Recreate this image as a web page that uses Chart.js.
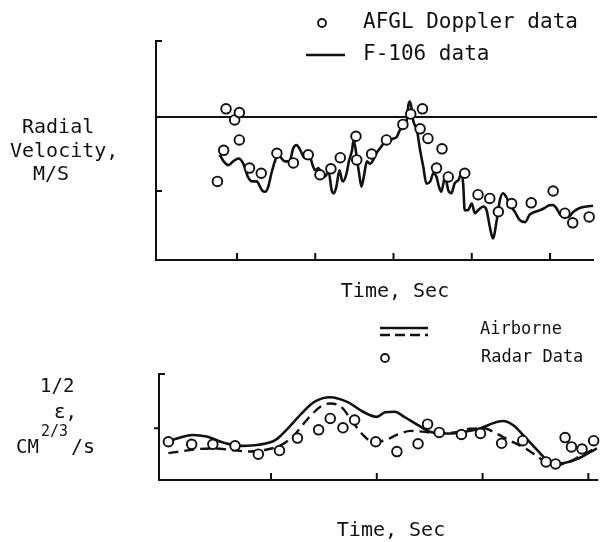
<!DOCTYPE html>
<html>
<head>
<meta charset="utf-8">
<script src="https://cdn.jsdelivr.net/npm/chart.js@4.4.1/dist/chart.umd.min.js"></script>
<style>
  html, body { margin: 0; padding: 0; background: #fff; }
  #wrap { position: relative; width: 605px; height: 542px; overflow: hidden; background: #fff; }
  canvas { position: absolute; left: 0; top: 0; }
</style>
</head>
<body>
<div id="wrap">
  <canvas id="top" width="605" height="542"></canvas>
  <canvas id="bottom" width="605" height="542"></canvas>
</div>
<script>
// ---------- TOP PANEL DATA (x in tick intervals, y in tick units; 0 = reference line) ----------
const topXTicks = [1, 2, 3, 4, 5];
const topYTicks = [-1];
const topRefLine = [[-0.035, 0], [5.6, 0]];

const f106Data = [
  [0.78,-0.51],[0.83,-0.60],[0.89,-0.65],[0.95,-0.60],[1.02,-0.56],[1.08,-0.63],[1.14,-0.81],[1.19,-0.87],
  [1.25,-0.87],[1.32,-0.99],[1.36,-1.01],[1.40,-0.94],[1.44,-0.76],[1.49,-0.58],[1.53,-0.51],[1.57,-0.56],
  [1.61,-0.60],[1.67,-0.60],[1.72,-0.42],[1.76,-0.38],[1.81,-0.45],[1.85,-0.54],[1.89,-0.56],[1.92,-0.49],
  [1.96,-0.63],[2.00,-0.72],[2.04,-0.69],[2.08,-0.76],[2.12,-0.81],[2.17,-0.74],[2.21,-0.99],[2.24,-1.03],
  [2.27,-0.94],[2.31,-0.72],[2.34,-0.85],[2.36,-0.87],[2.40,-0.76],[2.43,-0.60],[2.47,-0.45],[2.49,-0.31],
  [2.53,-0.54],[2.56,-0.76],[2.59,-0.94],[2.62,-0.81],[2.66,-0.60],[2.70,-0.63],[2.73,-0.60],[2.78,-0.49],
  [2.83,-0.42],[2.87,-0.36],[2.91,-0.31],[2.95,-0.31],[3.00,-0.29],[3.04,-0.27],[3.08,-0.18],[3.12,-0.13],
  [3.17,-0.04],[3.19,0.16],[3.21,0.21],[3.23,0.12],[3.25,-0.04],[3.30,-0.18],[3.34,-0.45],[3.38,-0.67],
  [3.42,-0.90],[3.47,-0.87],[3.51,-0.76],[3.55,-0.81],[3.58,-0.94],[3.61,-1.01],[3.66,-0.81],[3.70,-0.99],
  [3.74,-1.03],[3.78,-0.90],[3.83,-0.85],[3.87,-0.76],[3.89,-0.90],[3.91,-1.26],[3.95,-1.26],[4.00,-1.17],
  [4.04,-1.30],[4.08,-1.26],[4.15,-1.21],[4.19,-1.26],[4.23,-1.48],[4.27,-1.64],[4.32,-1.39],[4.36,-1.12],
  [4.40,-1.03],[4.44,-1.08],[4.49,-1.19],[4.55,-1.28],[4.61,-1.39],[4.68,-1.42],[4.74,-1.32],[4.81,-1.28],
  [4.87,-1.26],[4.93,-1.23],[5.00,-1.19],[5.04,-1.19],[5.08,-1.23],[5.13,-1.32],[5.17,-1.35],[5.23,-1.35],
  [5.30,-1.28],[5.38,-1.23],[5.47,-1.21],[5.55,-1.20]
];

const dopplerData = [
  [0.75,-0.87],[0.86,0.11],[0.83,-0.45],[0.97,-0.04],[1.03,0.06],[1.03,-0.31],[1.16,-0.69],[1.31,-0.76],
  [1.51,-0.49],[1.72,-0.62],[1.91,-0.51],[2.06,-0.78],[2.20,-0.70],[2.32,-0.55],[2.52,-0.26],[2.53,-0.58],
  [2.72,-0.50],[2.91,-0.31],[3.12,-0.10],[3.22,0.04],[3.37,0.11],[3.34,-0.16],[3.44,-0.29],[3.62,-0.43],
  [3.55,-0.69],[3.70,-0.81],[3.91,-0.76],[4.08,-1.05],[4.23,-1.10],[4.34,-1.28],[4.51,-1.17],[4.76,-1.16],
  [5.04,-1.00],[5.19,-1.30],[5.29,-1.43],[5.50,-1.35]
];

// ---------- BOTTOM PANEL DATA ----------
const botXTicks = [1, 2, 3, 4];
const botYTicks = [1];

const airborneSolid = [
  [0.06,0.77],[0.26,0.87],[0.39,0.84],[0.57,0.71],[0.73,0.66],[0.88,0.68],[1.04,0.77],[1.16,1.00],
  [1.29,1.29],[1.41,1.51],[1.56,1.60],[1.72,1.51],[1.87,1.32],[2.00,1.22],[2.08,1.31],[2.17,1.32],
  [2.26,1.22],[2.39,1.06],[2.51,0.93],[2.67,0.90],[2.82,0.93],[2.98,1.00],[3.10,1.10],[3.19,1.14],
  [3.29,1.06],[3.41,0.81],[3.53,0.55],[3.63,0.35],[3.72,0.32],[3.81,0.35],[3.91,0.42],[4.00,0.52],
  [4.08,0.61]
];

const airborneDashed = [
  [0.03,0.52],[0.17,0.56],[0.32,0.60],[0.48,0.61],[0.63,0.58],[0.79,0.55],[0.94,0.58],[1.10,0.68],
  [1.22,0.87],[1.35,1.19],[1.47,1.42],[1.56,1.48],[1.66,1.42],[1.75,1.19],[1.87,0.87],[1.97,0.73],
  [2.08,0.77],[2.20,0.88],[2.32,0.95],[2.45,0.93],[2.57,0.90],[2.76,0.93],[2.88,0.99],[3.01,1.00],
  [3.13,0.90],[3.25,0.77],[3.38,0.64],[3.50,0.48],[3.60,0.35],[3.72,0.30],[3.81,0.34],[3.91,0.45],
  [4.00,0.54],[4.06,0.61]
];

const radarData = [
  [0.03,0.74],[0.25,0.69],[0.45,0.69],[0.66,0.66],[0.88,0.50],[1.08,0.57],[1.25,0.81],[1.45,0.97],
  [1.56,1.19],[1.68,1.01],[1.79,1.16],[1.99,0.74],[2.19,0.55],[2.39,0.70],[2.48,1.08],[2.59,0.92],
  [2.80,0.88],[2.98,0.90],[3.18,0.71],[3.38,0.76],[3.60,0.35],[3.69,0.31],[3.78,0.82],[3.84,0.64],
  [3.94,0.60],[4.05,0.76]
];

// ---------- helpers ----------
const toPts = arr => arr.map(p => ({ x: p[0], y: p[1] }));
const FONT = "'DejaVu Sans Mono', 'Liberation Mono', monospace";
const INK = '#111';

const axesDeco = {
  id: 'axesDeco',
  beforeDatasetsDraw(chart, args, o) {
    const { ctx, chartArea: a, scales: { x, y } } = chart;
    ctx.save();
    ctx.strokeStyle = INK;
    ctx.lineWidth = 2;
    ctx.beginPath();
    ctx.moveTo(a.left + o.bracket, a.top);
    ctx.lineTo(a.left, a.top);
    ctx.lineTo(a.left, a.bottom);
    ctx.lineTo(a.right, a.bottom);
    ctx.stroke();
    ctx.beginPath();
    o.xTicks.forEach(v => {
      const px = x.getPixelForValue(v);
      ctx.moveTo(px, a.bottom);
      ctx.lineTo(px, a.bottom - o.tickLen);
    });
    o.yTicks.forEach(v => {
      const py = y.getPixelForValue(v);
      ctx.moveTo(a.left + o.yFrom, py);
      ctx.lineTo(a.left + o.yTo, py);
    });
    ctx.stroke();
    ctx.restore();
  }
};

const labels = {
  id: 'labels',
  afterDraw(chart, args, o) {
    const ctx = chart.ctx;
    ctx.save();
    ctx.fillStyle = INK;
    ctx.strokeStyle = INK;
    ctx.textBaseline = 'middle';
    o.items.forEach(t => {
      ctx.font = t.size + 'px ' + FONT;
      ctx.textAlign = t.align || 'left';
      ctx.fillText(t.text, t.x, t.y);
    });
    (o.lines || []).forEach(l => {
      ctx.beginPath();
      ctx.lineWidth = l.w;
      ctx.setLineDash(l.dash || []);
      ctx.moveTo(l.x1, l.y);
      ctx.lineTo(l.x2, l.y);
      ctx.stroke();
    });
    ctx.setLineDash([]);
    (o.circles || []).forEach(c => {
      ctx.beginPath();
      ctx.lineWidth = 1.8;
      ctx.arc(c.x, c.y, c.r, 0, Math.PI * 2);
      ctx.fillStyle = '#fff';
      ctx.fill();
      ctx.stroke();
    });
    ctx.restore();
  }
};

const circleStyle = {
  showLine: false,
  pointStyle: 'circle',
  pointRadius: 4.8,
  pointBorderWidth: 1.9,
  pointBorderColor: INK,
  pointBackgroundColor: '#fff',
  borderColor: INK,
  backgroundColor: '#fff',
  clip: false
};

function baseOptions(pad, xr, yr, deco, lab) {
  return {
    responsive: false,
    devicePixelRatio: 1,
    animation: false,
    events: [],
    layout: { padding: pad },
    plugins: { legend: { display: false }, tooltip: { enabled: false }, title: { display: false },
               axesDeco: deco, labels: lab },
    scales: {
      x: { type: 'linear', display: false, min: xr[0], max: xr[1] },
      y: { type: 'linear', display: false, min: yr[0], max: yr[1] }
    }
  };
}

// ---------- TOP CHART ----------
new Chart(document.getElementById('top'), {
  type: 'line',
  data: {
    datasets: [
      Object.assign({ label: 'AFGL Doppler data', data: toPts(dopplerData) }, circleStyle),
      { label: 'F-106 data', data: toPts(f106Data), borderColor: INK, borderWidth: 2.6,
        pointRadius: 0, cubicInterpolationMode: 'monotone', fill: false },
      { label: 'ref', data: toPts(topRefLine), borderColor: INK, borderWidth: 2, pointRadius: 0, clip: false }
    ]
  },
  options: baseOptions(
    { left: 156, top: 41, right: 11, bottom: 282 },
    [-0.035, 5.562], [-1.932, 1.027],
    { xTicks: topXTicks, yTicks: topYTicks, bracket: 6, tickLen: 7, yFrom: 0, yTo: 6 },
    {
      items: [
        { text: 'AFGL Doppler data', x: 363, y: 23, size: 21 },
        { text: 'F-106 data', x: 363, y: 55, size: 21 },
        { text: 'Radial', x: 22, y: 128, size: 20 },
        { text: 'Velocity,', x: 10, y: 152, size: 20 },
        { text: 'M/S', x: 33, y: 175, size: 20 },
        { text: 'Time, Sec', x: 395, y: 292, size: 20, align: 'center' }
      ],
      lines: [ { x1: 306, x2: 345, y: 55, w: 2.6 } ],
      circles: [ { x: 322, y: 23, r: 4 } ]
    }
  ),
  plugins: [axesDeco, labels]
});

// ---------- BOTTOM CHART ----------
new Chart(document.getElementById('bottom'), {
  type: 'line',
  data: {
    datasets: [
      Object.assign({ label: 'Radar Data', data: toPts(radarData) }, circleStyle),
      { label: 'Airborne', data: toPts(airborneSolid), borderColor: INK, borderWidth: 2.6,
        pointRadius: 0, cubicInterpolationMode: 'monotone', fill: false },
      { label: 'Airborne (dashed)', data: toPts(airborneDashed), borderColor: INK, borderWidth: 2.4,
        borderDash: [10, 6], pointRadius: 0, cubicInterpolationMode: 'monotone', fill: false }
    ]
  },
  options: baseOptions(
    { left: 159, top: 374, right: 0, bottom: 62 },
    [-0.059, 4.094], [0, 2.05],
    { xTicks: botXTicks, yTicks: botYTicks, bracket: 6, tickLen: 7, yFrom: -5, yTo: 1 },
    {
      items: [
        { text: 'Airborne', x: 480, y: 330, size: 17 },
        { text: 'Radar Data', x: 481, y: 358, size: 17 },
        { text: '1/2', x: 40, y: 387, size: 19 },
        { text: 'ε,', x: 54, y: 413, size: 19 },
        { text: 'CM', x: 16, y: 448, size: 19 },
        { text: '2/3', x: 41, y: 432, size: 15 },
        { text: '/s', x: 71, y: 448, size: 20 },
        { text: 'Time, Sec', x: 391, y: 531, size: 20, align: 'center' }
      ],
      lines: [
        { x1: 380, x2: 428, y: 328, w: 2.4 },
        { x1: 380, x2: 428, y: 335, w: 2.4, dash: [10, 5] }
      ],
      circles: [ { x: 385, y: 358, r: 4 } ]
    }
  ),
  plugins: [axesDeco, labels]
});
</script>
</body>
</html>
